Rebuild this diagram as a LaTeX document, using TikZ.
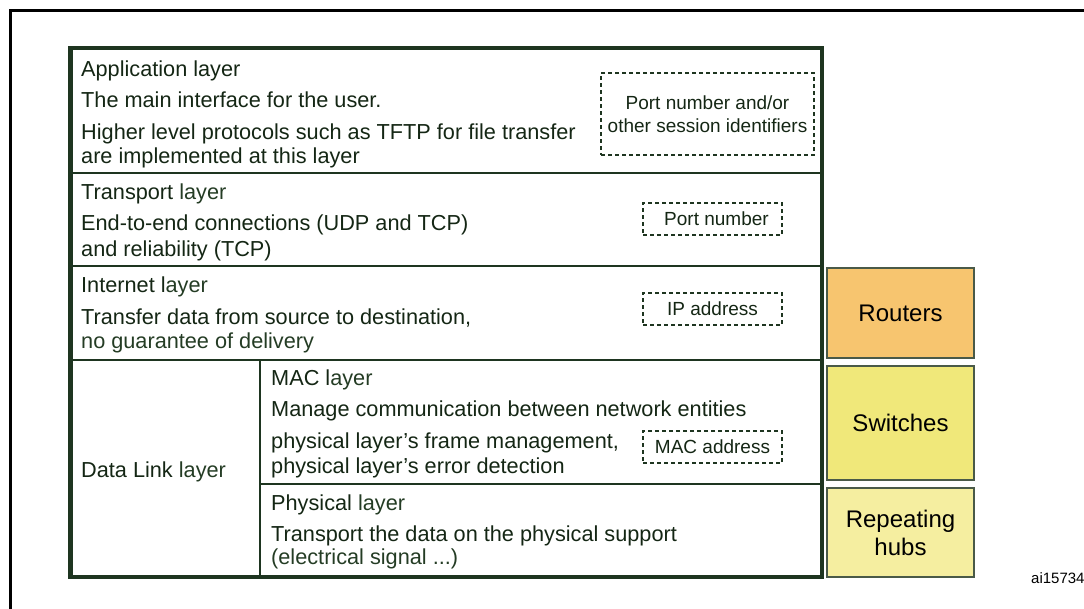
\documentclass[tikz,border=0pt]{standalone}
\usepackage{fontspec}
\setmainfont{Liberation Sans}
\definecolor{frameclr}{HTML}{1E3520}
\definecolor{txtdark}{HTML}{142614}
\definecolor{txtlight}{HTML}{243C24}
\definecolor{routerfill}{HTML}{F7C56F}
\definecolor{switchfill}{HTML}{F0E87A}
\definecolor{hubfill}{HTML}{F5EEA0}
\definecolor{devborder}{HTML}{4A5A48}
\tikzset{
  body/.style={anchor=base west, inner sep=0pt, text=txtdark,
    font=\fontsize{21.7}{24}\selectfont},
  soft/.style={body, text=txtlight},
  idbox/.style={draw=frameclr, line width=1.8pt, dash pattern=on 4pt off 3pt,
    inner sep=0pt, align=center, text=txtdark,
    font=\fontsize{19}{23}\selectfont},
  device/.style={draw=devborder, line width=1.5pt, inner sep=0pt, align=center,
    text=black, font=\fontsize{24}{28}\selectfont},
  sep/.style={draw=frameclr, line width=2.4pt},
}
\begin{document}
\begin{tikzpicture}[x=1pt,y=-1pt]
\useasboundingbox (0,0) rectangle (1084,608);

% page frame (top and left edges)
\coordinate (fbl) at (10.5,620);
\coordinate (ftl) at (10.5,10.5);
\coordinate (ftr) at (1100,10.5);
\draw[black, line width=2.2pt] (fbl) -- (ftl) -- (ftr);

% stack outline corners
\coordinate (stl) at (70.5,48);
\coordinate (sbr) at (822,577);

% layer separators
\coordinate (s1l) at (70.5,173);  \coordinate (s1r) at (822,173);
\coordinate (s2l) at (70.5,266);  \coordinate (s2r) at (822,266);
\coordinate (s3l) at (70.5,360);  \coordinate (s3r) at (822,360);
\coordinate (dvt) at (260,360);   \coordinate (dvb) at (260,577);
\coordinate (s4l) at (260,484);   \coordinate (s4r) at (822,484);
\draw[sep] (s1l) -- (s1r);
\draw[sep] (s2l) -- (s2r);
\draw[sep] (s3l) -- (s3r);
\draw[sep, line width=2pt] (dvt) -- (dvb);
\draw[sep] (s4l) -- (s4r);
\draw[draw=frameclr, line width=4.2pt] (stl) rectangle (sbr);

% application layer
\node[body] (appt) at (81,76) {Application layer};
\node[body] (app1) at (81,107) {The main interface for the user.};
\node[body] (app2) at (81,139) {Higher level protocols such as TFTP for file transfer};
\node[body] (app3) at (81,163) {are implemented at this layer};
\node[idbox, minimum width=213pt, minimum height=82pt] (sess) at (707.5,114)
  {Port number and/or\\other session identifiers};

% transport layer
\node[body] (trt) at (81,199) {Transport {\color{txtlight}layer}};
\node[body] (tr1) at (81,230) {End-to-end connections (UDP and TCP)};
\node[body] (tr2) at (81,256) {and reliability (TCP)};
\node[idbox, minimum width=139pt, minimum height=32pt] (port) at (712.5,219) {\hspace*{8pt}Port number};

% internet layer
\node[body] (int) at (81,292) {Internet l{\color{txtlight}ayer}};
\node[body] (in1) at (81,324) {Transfer data from source to destination,};
\node[soft] (in2) at (81,348) {no guarantee of delivery};
\node[idbox, minimum width=139pt, minimum height=32pt] (ip) at (712.5,309) {IP address};

% data link layer
\node[body] (dlt) at (81,477) {Data Link {\color{txtlight}layer}};
\node[body] (mact) at (271,385) {MAC l{\color{txtlight}ayer}};
\node[body] (mac1) at (271,416) {Manage communication between network entities};
\node[body] (mac2) at (271,448) {physical layer’s frame management,};
\node[body] (mac3) at (271,473) {physical layer’s error detection};
\node[idbox, minimum width=139pt, minimum height=32pt] (mac) at (712.5,447) {MAC address};

% physical layer
\node[body] (pht) at (271,510) {Physical {\color{txtlight}layer}};
\node[body] (ph1) at (271,541) {Transport the data on the physical support};
\node[soft] (ph2) at (271,564) {(electrical signal ...)};

% network devices
\node[device, fill=routerfill, minimum width=147pt, minimum height=90pt] (rout) at (900.5,313) {Routers};
\node[device, fill=switchfill, minimum width=147pt, minimum height=114pt] (swit) at (900.5,423) {Switches};
\node[device, fill=hubfill, minimum width=147pt, minimum height=89pt] (hubs) at (900.5,532.5) {Repeating\\hubs};

\node[anchor=base west, inner sep=0pt, font=\fontsize{15}{18}\selectfont] (code) at (1031,583) {ai15734};
\end{tikzpicture}
\end{document}
